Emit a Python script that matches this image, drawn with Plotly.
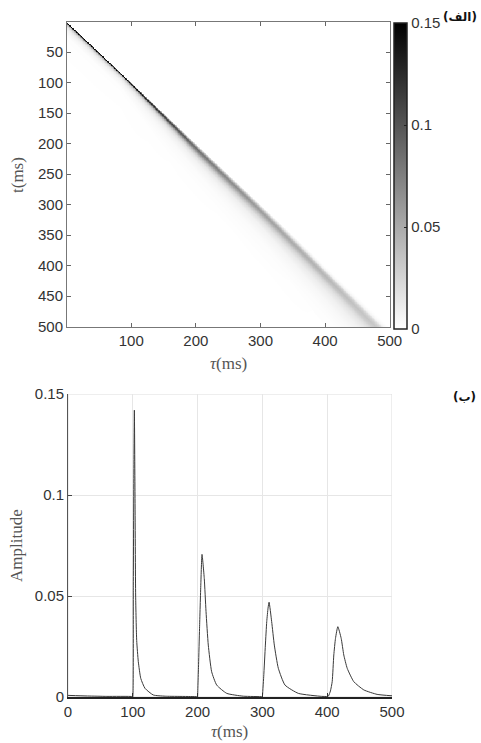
import numpy as np
import plotly.graph_objects as go

# ---------------- data ----------------
onsets = [100, 200, 300, 400]          # ms, start of each response in panel (b)

# offsets (ms after onset) and amplitudes of each response in panel (b)
p1_d = [0, 0.8, 1.6, 2.4, 3.4, 4.4, 6.0, 8.5, 12.3, 18.8, 31.6, 50, 100]
p1_a = [0, 0.055, 0.11, 0.142, 0.10, 0.05, 0.028, 0.0175, 0.0092, 0.0043, 0.0010, 0.0004, 0.0001]

p2_d = [0, 1.5, 3, 5, 6.8, 10.3, 13, 16.5, 21.7, 29.5, 45, 70.5, 100]
p2_a = [0, 0.016, 0.034, 0.056, 0.0706, 0.0587, 0.0423, 0.0257, 0.0125, 0.0059, 0.0018, 0.0004, 0.0001]

p3_d = [0, 2, 4.6, 6.7, 8.7, 10.3, 14.3, 18.4, 24.6, 34.9, 55.4, 91.5, 100]
p3_a = [0, 0.01, 0.0257, 0.0373, 0.044, 0.0469, 0.0373, 0.0257, 0.0142, 0.0059, 0.0018, 0.0003, 0.0002]

p4_d = [0, 2, 5, 7.7, 10.2, 12.8, 16.4, 21.6, 25.6, 30.9, 41, 56.5, 77, 100]
p4_a = [0, 0.0005, 0.003, 0.0076, 0.0208, 0.029, 0.0348, 0.029, 0.0208, 0.0142, 0.0076, 0.0035, 0.0013, 0.0006]

# small residue before the first response
base_tau = [0, 30, 60, 99.5]
base_amp = [0.0008, 0.0005, 0.0003, 0.0002]

# darkness of the diagonal band in panel (a), read against the colour bar
band_t = [1, 50, 100, 150, 200, 250, 300, 350, 400, 450, 500]
band_peak = [0.2, 0.2, 0.16, 0.12, 0.085, 0.07, 0.058, 0.05, 0.043, 0.036, 0.03]

t_ticks = [50, 100, 150, 200, 250, 300, 350, 400, 450, 500]
tau_ticks_top = [100, 200, 300, 400, 500]
tau_ticks_bot = [0, 100, 200, 300, 400, 500]
amp_ticks = [0, 0.05, 0.1, 0.15]
amp_labels = ["0", "0.05", "0.1", "0.15"]
cbar_ticks = [0, 0.05, 0.1, 0.15]
cbar_labels = ["0", "0.05", "0.1", "0.15"]
n_t = 500

profiles_d = [np.array(p1_d), np.array(p2_d), np.array(p3_d), np.array(p4_d)]
profiles_a = [np.array(p1_a), np.array(p2_a), np.array(p3_a), np.array(p4_a)]

# ---------------- panel (b) line ----------------
line_tau = list(base_tau)
line_amp = list(base_amp)
for c, dd, aa in zip(onsets, profiles_d, profiles_a):
    line_tau += list(c + dd)
    line_amp += list(aa)

# ---------------- panel (a) matrix built from the read responses ----------------
T = np.array([d[np.argmax(a)] for d, a in zip(profiles_d, profiles_a)])
A = np.array([a.max() for a in profiles_a])
logc = np.log(onsets)
logT = np.log(T)


def shape(k, x):
    return np.interp(x, profiles_d[k] / T[k], profiles_a[k] / A[k], right=0.0)


def width(c):
    lc = np.log(c)
    if lc <= logc[0]:
        s = (logT[1] - logT[0]) / (logc[1] - logc[0])
        return np.exp(logT[0] + s * (lc - logc[0]))
    if lc >= logc[-1]:
        s = (logT[-1] - logT[-2]) / (logc[-1] - logc[-2])
        return np.exp(logT[-1] + s * (lc - logc[-1]))
    return np.exp(np.interp(lc, logc, logT))


t_axis = np.arange(1, n_t + 1)
Z = np.zeros((n_t, n_t))
for j in range(n_t):
    c = j + 1
    d = t_axis - c
    ok = d >= 0
    Tc = max(width(c), 1.8)
    Ac = np.interp(c, band_t, band_peak)
    x = d[ok] / Tc
    if c <= onsets[0]:
        s = shape(0, x)
    elif c >= onsets[-1]:
        s = shape(3, x)
    else:
        k = np.searchsorted(onsets, c) - 1
        w = (c - onsets[k]) / (onsets[k + 1] - onsets[k])
        s = (1 - w) * shape(k, x) + w * shape(k + 1, x)
    Z[ok, j] = Ac * s

# ---------------- figure ----------------
W, H = 481, 743
ML, MR, MT, MB = 67, 89, 22, 46
PW, PH = W - ML - MR, H - MT - MB


def px(x):
    return (x - ML) / PW


def py(y):
    return (H - MB - y) / PH


tick_font = dict(family="Liberation Sans, Arial, sans-serif", size=15, color="#333333")
title_font = dict(family="Liberation Serif, DejaVu Serif, serif", size=17, color="#555555")

fig = go.Figure()
fig.add_trace(go.Heatmap(
    z=Z, x=t_axis, y=t_axis, zmin=0, zmax=0.15, zsmooth="best",
    colorscale=[[0, "#ffffff"], [1, "#000000"]],
    xaxis="x", yaxis="y",
    colorbar=dict(
        x=px(394), xanchor="left", y=py(176), yanchor="middle",
        len=306 / PH, lenmode="fraction", thickness=13,
        xpad=0, ypad=0, outlinecolor="#222222", outlinewidth=1.5,
        tickvals=cbar_ticks, ticktext=cbar_labels, ticks="inside",
        ticklen=3, tickcolor="#222222", tickfont=tick_font,
    ),
    hoverinfo="skip",
))

fig.add_trace(go.Scatter(
    x=line_tau, y=line_amp, mode="lines",
    line=dict(color="#3a3a3a", width=1, shape="spline", smoothing=0.5),
    xaxis="x2", yaxis="y2", showlegend=False, hoverinfo="skip",
))

fig.update_layout(
    width=W, height=H, margin=dict(l=ML, r=MR, t=MT, b=MB, autoexpand=False),
    paper_bgcolor="white", plot_bgcolor="white", showlegend=False,
    xaxis=dict(domain=[px(67), px(390)], anchor="y", range=[0.5, 500.5],
               tickvals=tau_ticks_top, ticks="inside", ticklen=4, tickcolor="#666",
               showline=True, linecolor="#777", linewidth=1, mirror="allticks",
               showgrid=False, zeroline=False, tickfont=tick_font),
    yaxis=dict(domain=[py(327), py(22)], anchor="x", range=[500.5, 0.5],
               tickvals=t_ticks, ticks="inside", ticklen=4, tickcolor="#666",
               showline=True, linecolor="#777", linewidth=1, mirror="allticks",
               showgrid=False, zeroline=False, tickfont=tick_font),
    xaxis2=dict(domain=[px(68), px(392)], anchor="y2", range=[0, 500],
                tickvals=tau_ticks_bot, ticks="inside", ticklen=4, tickcolor="#333",
                showline=True, linecolor="#222", linewidth=1.5,
                showgrid=True, gridcolor="#e6e6e6", gridwidth=1,
                zeroline=False, tickfont=tick_font),
    yaxis2=dict(domain=[py(697), py(394)], anchor="x2", range=[0, 0.15],
                tickvals=amp_ticks, ticktext=amp_labels, ticks="inside", ticklen=4,
                tickcolor="#444", showline=True, linecolor="#555", linewidth=1,
                showgrid=True, gridcolor="#e6e6e6", gridwidth=1,
                zeroline=False, tickfont=tick_font),
    shapes=[dict(type="rect", xref="x2", yref="y2", x0=0, x1=500, y0=0, y1=0.15,
                 line=dict(color="#dddddd", width=1), layer="below")],
)

ann = [
    dict(text="<i>τ</i>(ms)", x=px(228.5), y=py(364)),
    dict(text="t(ms)", x=px(17), y=py(175), textangle=-90),
    dict(text="<i>τ</i>(ms)", x=px(230), y=py(731)),
    dict(text="Amplitude", x=px(16), y=py(546), textangle=-90),
]
for a in ann:
    fig.add_annotation(xref="paper", yref="paper", showarrow=False,
                       xanchor="center", yanchor="middle", font=title_font, **a)

lab_font = dict(family="DejaVu Sans, sans-serif", size=12, color="#111111")
fig.add_annotation(text="<b>(الف)</b>", xref="paper", yref="paper",
                   x=px(479), y=py(17), xanchor="right", yanchor="middle",
                   showarrow=False, font=lab_font)
fig.add_annotation(text="<b>(ب)</b>", xref="paper", yref="paper",
                   x=px(478), y=py(397), xanchor="right", yanchor="middle",
                   showarrow=False, font=lab_font)

fig.write_html("out.html", config={"displayModeBar": False},
               post_script="document.body.style.margin='0';document.body.style.padding='0';")
